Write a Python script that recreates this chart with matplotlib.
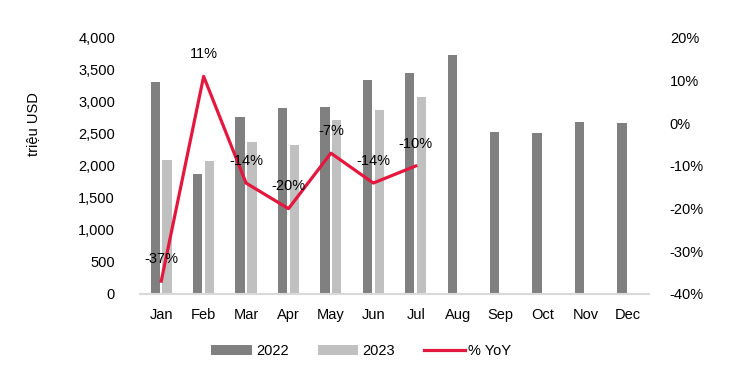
import matplotlib
matplotlib.use("Agg")
import matplotlib.pyplot as plt
import numpy as np
from matplotlib import font_manager

names = {f.name for f in font_manager.fontManager.ttflist}
fam = ['Liberation Sans Narrow', 'Liberation Sans', 'DejaVu Sans'] if 'Liberation Sans Narrow' in names else ['Liberation Sans', 'DejaVu Sans']
plt.rcParams['font.family'] = fam

months = ["Jan", "Feb", "Mar", "Apr", "May", "Jun", "Jul", "Aug", "Sep", "Oct", "Nov", "Dec"]
v2022 = [3317, 1875, 2771, 2911, 2917, 3339, 3448, 3739, 2526, 2521, 2688, 2677]
v2023 = [2094, 2083, 2375, 2333, 2719, 2875, 3083]
yoy = [-37, 11, -14, -20, -7, -14, -10]
yoy_labels = ["-37%", "11%", "-14%", "-20%", "-7%", "-14%", "-10%"]
left_ticks = [0, 500, 1000, 1500, 2000, 2500, 3000, 3500, 4000]
right_ticks = [-40, -30, -20, -10, 0, 10, 20]

c_dark = "#808080"
c_light = "#c0c0c0"
c_red = "#e4173e"

fig = plt.figure(figsize=(7.42, 3.85), dpi=100)
ax = fig.add_axes([0.1887, 0.2364, 0.686, 0.665])
x = np.arange(len(months))
x23 = np.arange(len(v2023))
w = 0.22
off = 0.14
b1 = ax.bar(x - off, v2022, width=w, color=c_dark, label="2022")
b2 = ax.bar(x23 + off, v2023, width=w, color=c_light, label="2023")
ax.set_xlim(-0.5, 11.5)
ax.set_ylim(0, 4000)
ax.set_yticks(left_ticks)
ax.set_yticklabels([f"{t:,}" for t in left_ticks])
ax.set_xticks(x)
ax.set_xticklabels(months)
for s in ["top", "left", "right"]:
    ax.spines[s].set_visible(False)
ax.spines["bottom"].set_color("#d9d9d9")
ax.spines["bottom"].set_linewidth(1.5)
ax.tick_params(axis="both", length=0, labelsize=10.5)
ax.tick_params(axis="y", pad=18)
ax.tick_params(axis="x", pad=10)
ax.set_ylabel("triệu USD", fontsize=10.5)
ax.yaxis.set_label_coords(-0.196, 0.664)

ax2 = ax.twinx()
ax2.set_ylim(-40, 20)
ax2.set_yticks(right_ticks)
ax2.set_yticklabels([f"{t}%" for t in right_ticks])
for s in ["top", "left", "right", "bottom"]:
    ax2.spines[s].set_visible(False)
ax2.tick_params(axis="y", length=0, pad=15, labelsize=10.5)
ln, = ax2.plot(x23, yoy, color=c_red, linewidth=2.3, label="% YoY")
for xi, yi, lab in zip(x23, yoy, yoy_labels):
    ax2.annotate(lab, (xi, yi), xytext=(0, 16), textcoords="offset points",
                 ha="center", va="center", fontsize=10.5)

fig.legend(handles=[b1, b2, ln], labels=["2022", "2023", "% YoY"], loc="center",
           bbox_to_anchor=(0.487, 0.088), ncol=3, frameon=False, fontsize=10.5,
           handlelength=2.8, handletextpad=0.25, columnspacing=2.0)

fig.savefig("out.png", dpi=100)
